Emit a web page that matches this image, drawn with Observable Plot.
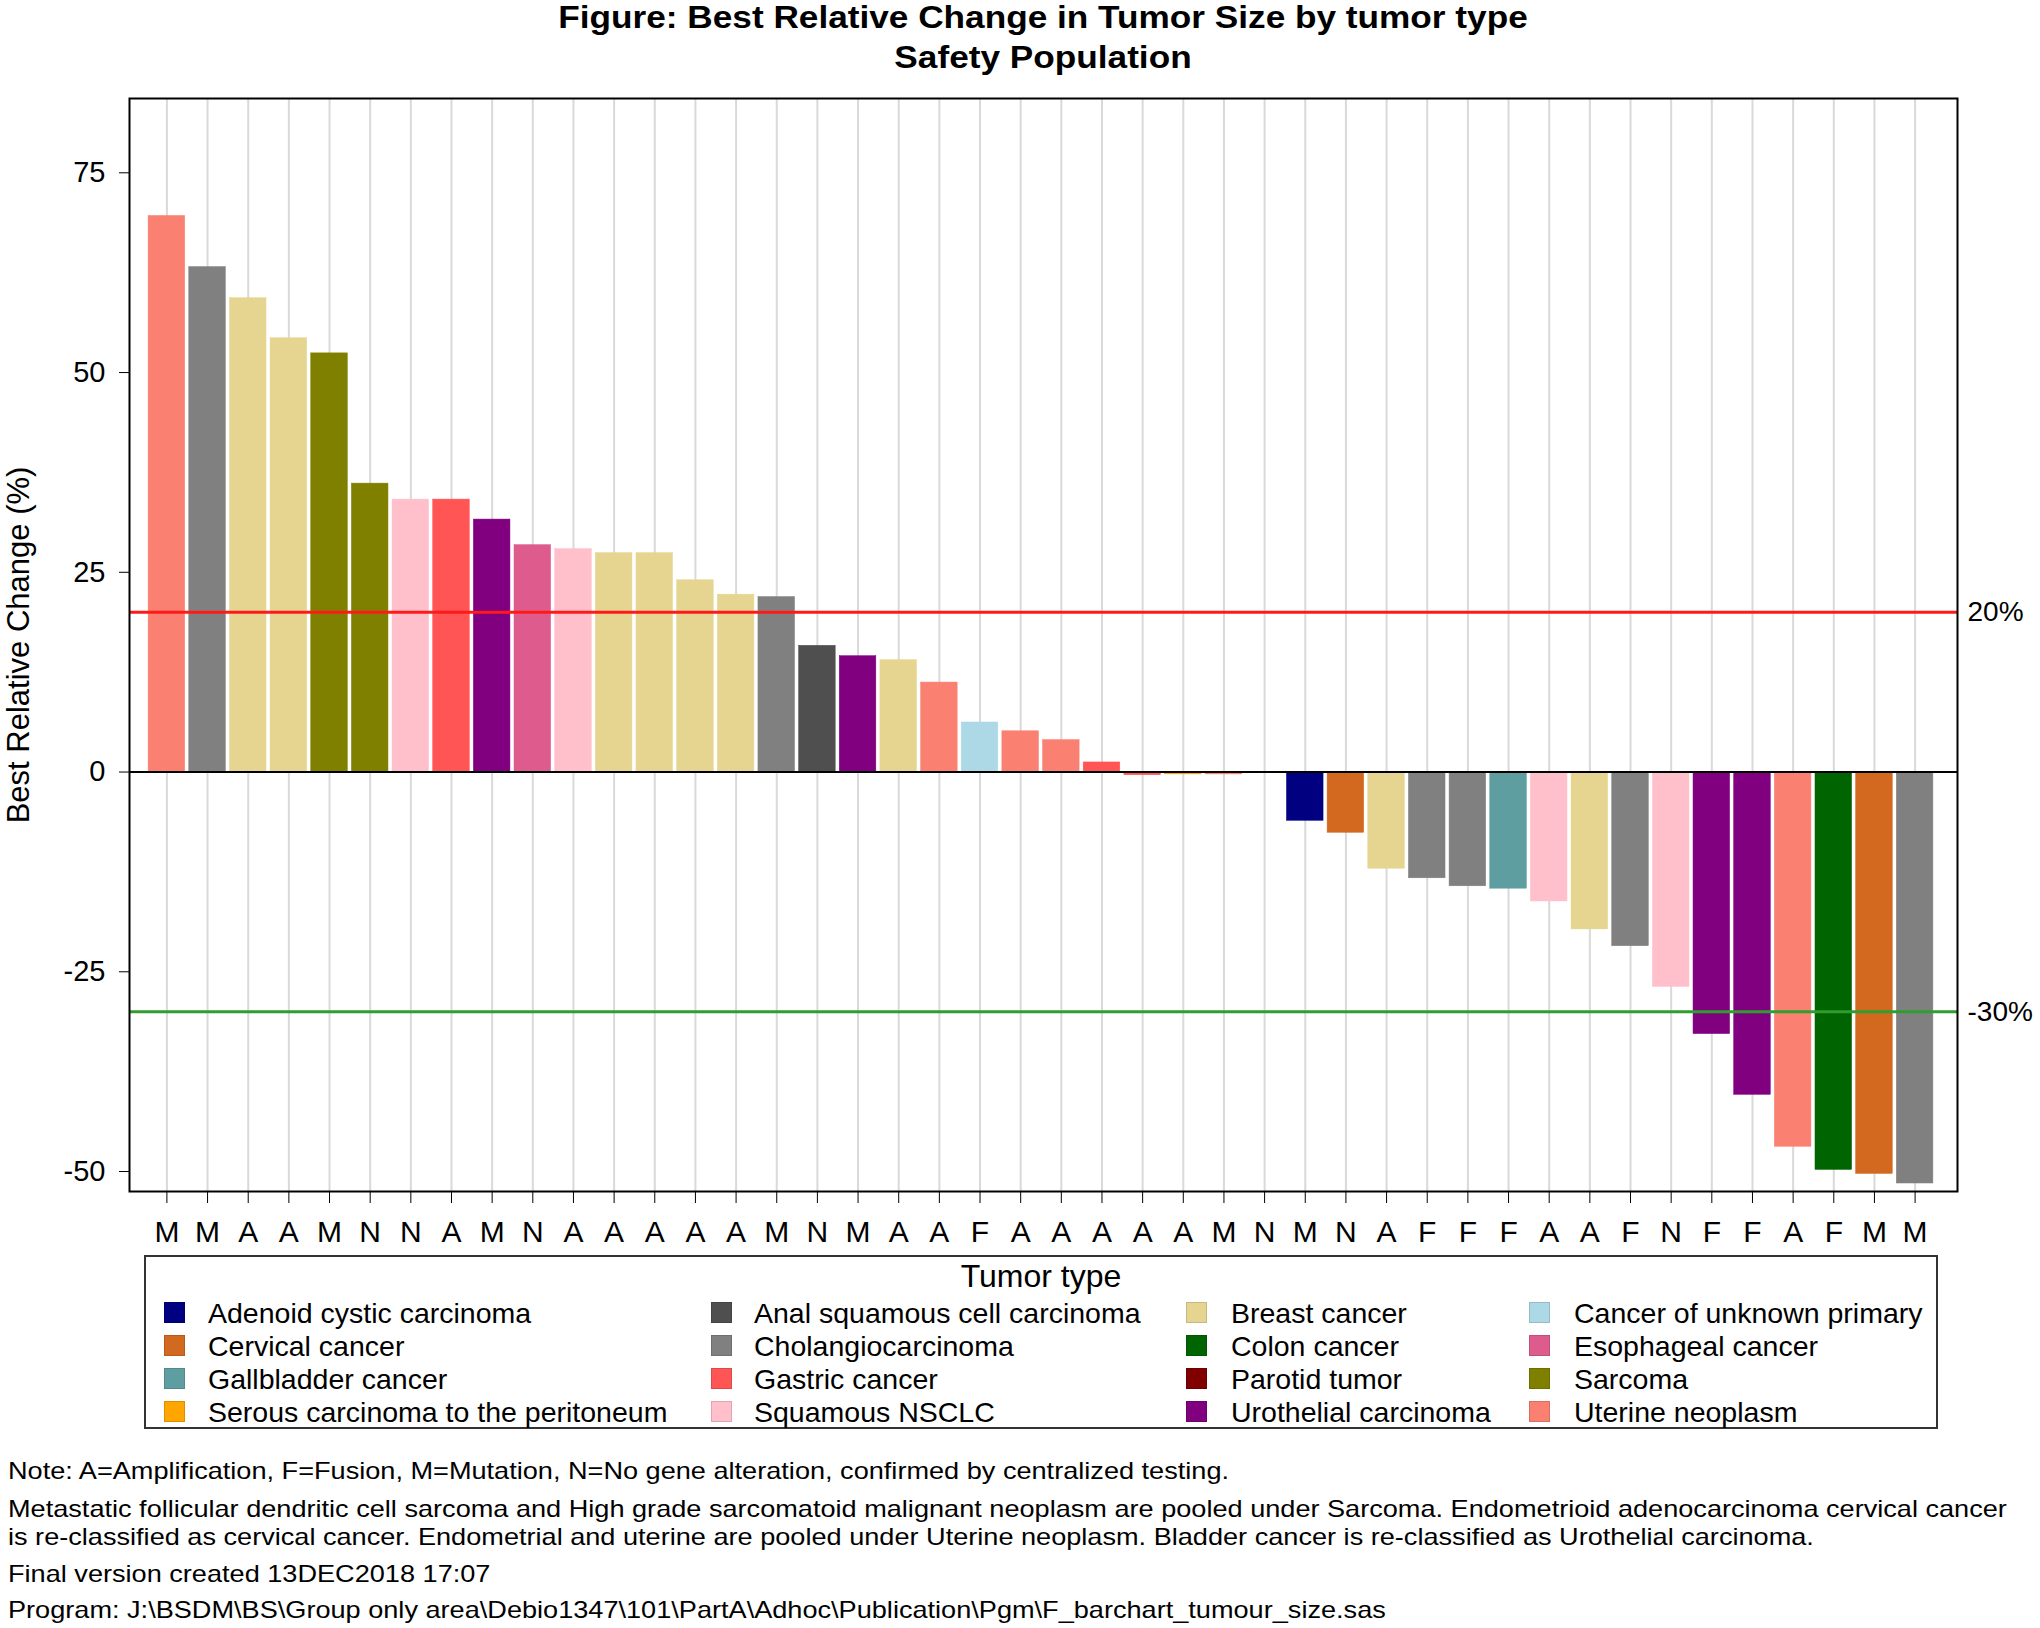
<!DOCTYPE html>
<html>
<head>
<meta charset="utf-8">
<script src="https://cdn.jsdelivr.net/npm/d3@7"></script>
<script src="https://cdn.jsdelivr.net/npm/@observablehq/plot@0.6"></script>
<style>
  body { margin: 0; background: white; }
  #wrap { position: relative; width: 2040px; height: 1628px; font-family: "Liberation Sans", Arial, sans-serif; color: black; overflow: hidden; }
  .abs { position: absolute; white-space: nowrap; }
</style>
</head>
<body>
<div id="wrap">
  <div id="title" class="abs" style="left:129px;width:1828px;top:-3px;text-align:center;font-weight:bold;font-size:32px;line-height:40px;transform:scaleX(1.1);transform-origin:914px 0;"></div>
  <div id="chart" class="abs" style="left:0;top:78px;"></div>
  <div id="legendbox" class="abs" style="left:144px;top:1255px;width:1794px;height:174px;border:2px solid #333;box-sizing:border-box;"></div>
  <div id="legend"></div>
  <div id="notes"></div>
</div>
<script>
// ---- data ----
const titleLines = ["Figure: Best Relative Change in Tumor Size by tumor type", "Safety Population"];
const alterations = ["M","M","A","A","M","N","N","A","M","N","A","A","A","A","A","M","N","M","A","A","F","A","A","A","A","A","M","N","M","N","A","F","F","F","A","A","F","N","F","F","A","F","M","M"];
const tumorTypes = [
  "Uterine neoplasm","Cholangiocarcinoma","Breast cancer","Breast cancer","Sarcoma","Sarcoma",
  "Squamous NSCLC","Gastric cancer","Urothelial carcinoma","Esophageal cancer","Squamous NSCLC",
  "Breast cancer","Breast cancer","Breast cancer","Breast cancer","Cholangiocarcinoma",
  "Anal squamous cell carcinoma","Urothelial carcinoma","Breast cancer","Uterine neoplasm",
  "Cancer of unknown primary","Uterine neoplasm","Uterine neoplasm","Gastric cancer","Gastric cancer",
  "Serous carcinoma to the peritoneum","Uterine neoplasm","Parotid tumor","Adenoid cystic carcinoma",
  "Cervical cancer","Breast cancer","Cholangiocarcinoma","Cholangiocarcinoma","Gallbladder cancer",
  "Squamous NSCLC","Breast cancer","Cholangiocarcinoma","Squamous NSCLC","Urothelial carcinoma",
  "Urothelial carcinoma","Uterine neoplasm","Colon cancer","Cervical cancer","Cholangiocarcinoma"
];
const changes = [69.6, 63.2, 59.3, 54.3, 52.4, 36.1, 34.1, 34.1, 31.6, 28.4, 27.9, 27.4, 27.4, 24.0, 22.2, 21.9,
  15.8, 14.5, 14.0, 11.2, 6.2, 5.1, 4.0, 1.2, -0.4, -0.3, -0.3, -0.1, -6.1, -7.6, -12.1, -13.3, -14.3, -14.6,
  -16.2, -19.7, -21.8, -26.9, -32.8, -40.4, -46.9, -49.8, -50.3, -51.5];
const typeNames = [
  "Adenoid cystic carcinoma","Anal squamous cell carcinoma","Breast cancer","Cancer of unknown primary",
  "Cervical cancer","Cholangiocarcinoma","Colon cancer","Esophageal cancer",
  "Gallbladder cancer","Gastric cancer","Parotid tumor","Sarcoma",
  "Serous carcinoma to the peritoneum","Squamous NSCLC","Urothelial carcinoma","Uterine neoplasm"
];
const typeColors = [
  "#000080","#4f4f4f","#e5d590","#add8e6",
  "#d2691e","#808080","#006400","#de5b8d",
  "#5f9ea0","#ff5555","#800000","#808000",
  "#ffa500","#ffc0cb","#800080","#fa8072"
];
const yTicks = [-50, -25, 0, 25, 50, 75];
const refValues = [20, -30];
const refLabels = ["20%", "-30%"];
const refColors = ["#ff1a1a", "#2f9e2f"];
const yLabel = "Best Relative Change (%)";
const legendTitle = "Tumor type";
const notes = [
  "Note: A=Amplification, F=Fusion, M=Mutation, N=No gene alteration, confirmed by centralized testing.",
  "Metastatic follicular dendritic cell sarcoma and High grade sarcomatoid malignant neoplasm are pooled under Sarcoma. Endometrioid adenocarcinoma cervical cancer",
  "is re-classified as cervical cancer. Endometrial and uterine are pooled under Uterine neoplasm. Bladder cancer is re-classified as Urothelial carcinoma.",
  "Final version created 13DEC2018 17:07",
  "Program: J:\\BSDM\\BS\\Group only area\\Debio1347\\101\\PartA\\Adhoc\\Publication\\Pgm\\F_barchart_tumour_size.sas"
];

// ---- build ----
document.getElementById("title").innerHTML = titleLines.join("<br>");

const data = changes.map((v, i) => ({i, v, type: tumorTypes[i], alt: alterations[i]}));
const refs = refValues.map((y, k) => ({y, t: refLabels[k], c: refColors[k]}));
const idx = d3.range(changes.length);

const chart = Plot.plot({
  width: 2040,
  height: 1175,
  marginTop: 20,
  marginBottom: 62,
  marginLeft: 129,
  marginRight: 83,
  style: {fontFamily: "'Liberation Sans', Arial, sans-serif", background: "white", color: "black"},
  x: {type: "band", domain: idx, paddingInner: 0.1, paddingOuter: 0.47, insetRight: 5, round: false},
  y: {domain: [-52.5, 84.3]},
  color: {domain: typeNames, range: typeColors},
  marks: [
    Plot.gridX(idx, {stroke: "#d9d9d9", strokeOpacity: 1, strokeWidth: 2}),
    Plot.barY(data, {x: "i", y: "v", fill: "type", stroke: "type", strokeWidth: 0.5}),
    Plot.ruleY([0], {stroke: "black", strokeWidth: 2}),
    Plot.ruleY(refs, {y: "y", stroke: "c", strokeWidth: 3}),
    Plot.axisY({ticks: yTicks, tickSize: 10, tickPadding: 14, fontSize: 29, tickFormat: d => String(d), label: null}),
    Plot.axisX({tickSize: 12, tickPadding: 17, fontSize: 30, tickFormat: i => alterations[i], label: null}),
    Plot.text(refs, {y: "y", text: "t", frameAnchor: "right", textAnchor: "start", dx: 10, fontSize: 28}),
    Plot.text([yLabel], {text: d => d, frameAnchor: "left", textAnchor: "middle", rotate: -90, dx: -110, fontSize: 31}),
    Plot.frame({stroke: "black", strokeWidth: 2})
  ]
});
document.getElementById("chart").appendChild(chart);

// legend
const legend = document.getElementById("legend");
const swatchX = [164, 711, 1186, 1529];
const textX = [208, 754, 1231, 1574];
const lt = document.createElement("div");
lt.className = "abs";
lt.style.cssText = "left:144px;width:1794px;top:1260px;text-align:center;font-size:32px;line-height:32px;";
lt.textContent = legendTitle;
legend.appendChild(lt);
typeNames.forEach((name, k) => {
  const col = k % 4, row = Math.floor(k / 4);
  const sw = document.createElement("div");
  sw.className = "abs";
  sw.style.cssText = `left:${swatchX[col]}px;top:${1302 + 33 * row}px;width:21px;height:21px;background:${typeColors[k]};box-sizing:border-box;border:1px solid ${d3.color(typeColors[k]).darker(0.4)};`;
  legend.appendChild(sw);
  const tx = document.createElement("div");
  tx.className = "abs";
  tx.style.cssText = `left:${textX[col]}px;top:${1299 + 33 * row}px;font-size:28.5px;line-height:28px;`;
  tx.textContent = name;
  legend.appendChild(tx);
});

// notes
const noteTops = [1459, 1497, 1525, 1562, 1598];
const notesEl = document.getElementById("notes");
notes.forEach((t, k) => {
  const d = document.createElement("div");
  d.className = "abs";
  d.style.cssText = `left:8px;top:${noteTops[k]}px;font-size:24px;line-height:24px;transform:scaleX(1.13);transform-origin:0 0;`;
  d.textContent = t;
  notesEl.appendChild(d);
});
</script>
</body>
</html>
